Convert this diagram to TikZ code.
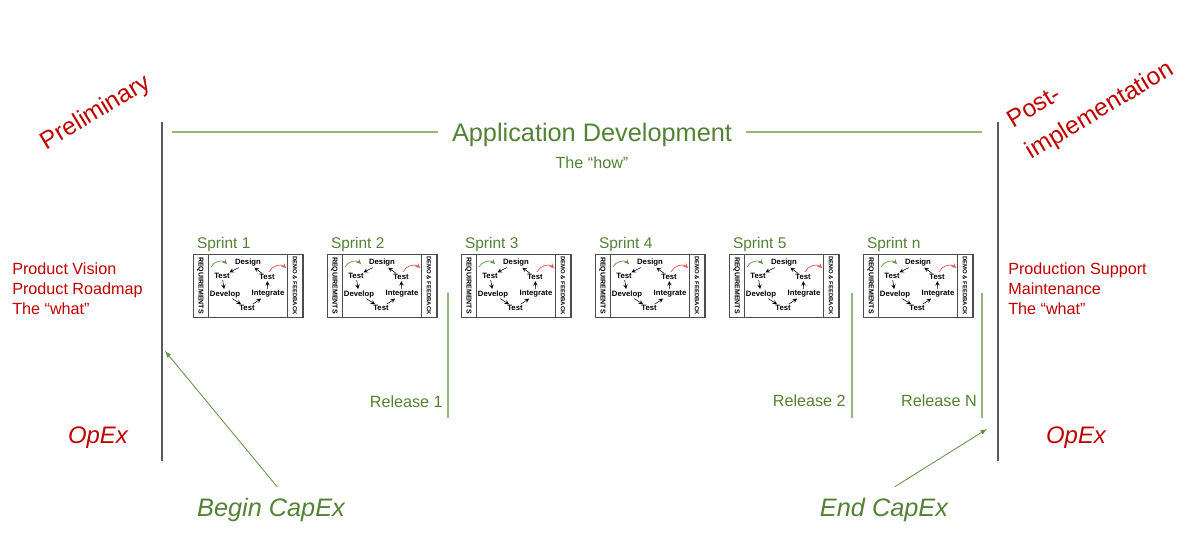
\documentclass[tikz,border=0pt]{standalone}
\usepackage{fontspec}
\setmainfont{Liberation Sans}
\usetikzlibrary{positioning, arrows}
\definecolor{adgreen}{RGB}{84,130,53}
\definecolor{linegreen}{RGB}{150,180,125}
\definecolor{arrgreen}{RGB}{100,145,70}
\definecolor{phred}{RGB}{192,0,0}
\definecolor{fbred}{RGB}{225,90,80}
\definecolor{bargray}{RGB}{90,90,90}

\begin{document}
\begin{tikzpicture}[x=0.025cm, y=-0.025cm,
	phase/.style={text=phred, font=\fontsize{17.5}{26}\selectfont, rotate=31, align=left},
	side/.style={text=phred, font=\fontsize{11.5}{14.2}\selectfont, align=left, anchor=west, inner sep=0pt},
	opex/.style={text=phred, font=\fontsize{17}{20}\selectfont\itshape},
	bar/.style={draw=bargray, line width=1pt},
	gline/.style={draw=linegreen, line width=1pt},
	rel/.style={text=adgreen, font=\fontsize{11.5}{14}\selectfont, anchor=east, inner sep=0pt},
	capex/.style={text=adgreen, font=\fontsize{18}{22}\selectfont\itshape},
	capar/.style={draw=arrgreen, line width=0.6pt, -latex},
	sprint/.style={text=adgreen, font=\fontsize{11}{13}\selectfont, anchor=south west, inner sep=1pt},
	board/.style={draw=black!70, line width=0.6pt, minimum width=2.75cm, minimum height=1.575cm, inner sep=0pt},
	strip/.style={draw=black!70, line width=0.5pt, rotate=-90, minimum width=1.575cm, minimum height=0.375cm, inner sep=0pt, font=\fontsize{5}{5}\selectfont\bfseries},
	stage/.style={font=\fontsize{5.5}{6}\selectfont\bfseries, inner sep=0.3pt},
	cyc/.style={-stealth, line width=0.4pt, shorten >=0.5pt, shorten <=0.5pt},
]
	\useasboundingbox (0,0) rectangle (1200,539);

	% phases
	\node[phase] (prelim) at (96,113) {Preliminary};
	\node[phase] (post) at (1091,96) {Post-\\implementation};
	\node[side] (whatL) at (12,289) {Product Vision\\Product Roadmap\\The “what”};
	\node[side] (whatR) at (1008,289) {Production Support\\Maintenance\\The “what”};
	\node[opex] (opexL) at (98,438) {OpEx};
	\node[opex] (opexR) at (1076,438) {OpEx};

	\coordinate (pl1) at (162,122);
	\coordinate (pl2) at (162,461);
	\coordinate (pr1) at (998,122);
	\coordinate (pr2) at (998,461);
	\draw[bar] (pl1) -- (pl2);
	\draw[bar] (pr1) -- (pr2);

	% application development
	\node[text=adgreen, font=\fontsize{18}{22}\selectfont, inner xsep=10pt] (appdev) at (592,135) {Application Development};
	\node[text=adgreen, font=\fontsize{11.5}{14}\selectfont, below=0pt of appdev] (how) {The “how”};
	\coordinate (al) at (172,132);
	\coordinate (ar) at (982,132);
	\draw[gline] (al) -- (al -| appdev.west);
	\draw[gline] (ar -| appdev.east) -- (ar);

	% sprints
	\foreach \i/\lab in {0/1,1/2,2/3,3/4,4/5,5/n} {
		\begin{scope}[shift={(134*\i,0)}]
			\node[board] (box\lab) at (248,285.5) {};
			\node[strip] (req\lab) at (200.5,285.5) {REQUIREMENTS};
			\node[strip, font=\fontsize{4.2}{5}\selectfont\bfseries] (demo\lab) at (295,285.5) {DEMO \& FEEDBACK};
			\node[sprint] (spr\lab) at ([xshift=2pt]box\lab.north west) {Sprint \lab};
			\node[stage] (des\lab) at (248,263) {Design};
			\node[stage] (tl\lab) at (222,276) {Test};
			\node[stage] (dev\lab) at (225,294) {Develop};
			\node[stage] (tb\lab) at (247,308) {Test};
			\node[stage] (int\lab) at (268,294) {Integrate};
			\node[stage] (tr\lab) at (267,277) {Test};
			\path[cyc]
				(des\lab) edge (tl\lab)
				(tl\lab) edge (dev\lab)
				(dev\lab) edge (tb\lab)
				(tb\lab) edge (int\lab)
				(int\lab) edge (tr\lab)
				(tr\lab) edge (des\lab)
			;
			\coordinate (ga\lab) at (211,267);
			\coordinate (gb\lab) at (227,264);
			\coordinate (ra\lab) at (269,272);
			\coordinate (rb\lab) at (286,268);
			\draw[-stealth, draw=arrgreen, line width=0.5pt] (ga\lab) to[bend left=55] (gb\lab);
			\draw[-stealth, draw=fbred, line width=0.5pt] (ra\lab) to[bend left=55] (rb\lab);
		\end{scope}
	}

	% releases
	\coordinate (r1t) at (448,293);
	\coordinate (r1b) at (448,418);
	\coordinate (r2t) at (852,293);
	\coordinate (r2b) at (852,418);
	\coordinate (rNt) at (982,293);
	\coordinate (rNb) at (982,418);
	\draw[gline] (r1t) -- (r1b);
	\draw[gline] (r2t) -- (r2b);
	\draw[gline] (rNt) -- (rNb);
	\node[rel] (rel1) at (443,402) {Release 1};
	\node[rel] (rel2) at (846,401) {Release 2};
	\node[rel] (relN) at (977,401) {Release N};

	% capex
	\node[capex] (begcx) at (271,510) {Begin CapEx};
	\node[capex] (endcx) at (884,510) {End CapEx};
	\coordinate (bgtip) at (165,351);
	\coordinate (edtip) at (987,429);
	\draw[capar] ([xshift=4.3pt, yshift=4.7pt]begcx.north) -- (bgtip);
	\draw[capar] ([xshift=7.8pt, yshift=4.7pt]endcx.north) -- (edtip);
\end{tikzpicture}
\end{document}
